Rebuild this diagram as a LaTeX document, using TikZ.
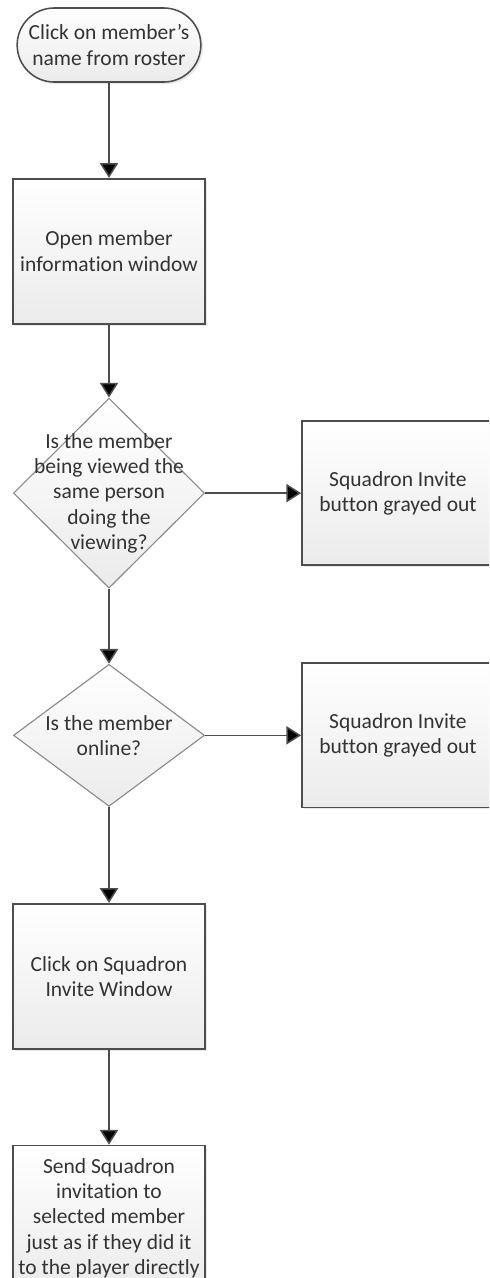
\documentclass[tikz,border=0pt]{standalone}
\usepackage{fontspec}
\setmainfont{Carlito}[Ligatures={TeX,NoCommon}]
\usetikzlibrary{positioning,shapes.geometric,shapes.misc,arrows.meta,shadows}
\definecolor{edgegray}{HTML}{4D4D4D}
\definecolor{diagray}{HTML}{8A8A8A}
\definecolor{fillgray}{HTML}{EBEBEB}
\tikzstyle{every node}=[font=\fontsize{15.3}{18}\selectfont,text=black!80,align=center]
\tikzstyle{boxshadow}=[drop shadow={shadow xshift=1.5pt,shadow yshift=-1.5pt,opacity=0.18}]
\tikzstyle{startstop}=[rounded rectangle,draw=edgegray,line width=1.1pt,top color=white,bottom color=fillgray,minimum width=4.825cm,minimum height=1.85cm,boxshadow]
\tikzstyle{process}=[rectangle,draw=edgegray,line width=1.2pt,top color=white,bottom color=fillgray,minimum width=4.8cm,minimum height=3.625cm,boxshadow]
\tikzstyle{decision}=[diamond,draw=diagray,line width=0.8pt,top color=white,bottom color=fillgray,minimum width=4.775cm,inner sep=0pt]
\tikzstyle{flowline}=[draw=edgegray,line width=1.1pt,-{Triangle[width=13pt,length=10.5pt]}]

\begin{document}
\begin{tikzpicture}[x=0.025cm,y=-0.025cm]
\path[use as bounding box,clip] (0,0) rectangle (489,1278);
\node[startstop] (click)                       at (109,45) {Click on member's\\name from roster};
\node[process]   (open)    [below=2.375cm of click]  {Open member\\information window};
\node[decision,minimum height=4.75cm,
      label={center:{Is the member\\being viewed the\\same person\\doing the\\viewing?}}]
                 (same)    [below=1.825cm of open]   {};
\node[process,minimum height=3.6cm] (grayed1) [right=2.4cm of same] {Squadron Invite\\button grayed out};
\node[decision,minimum height=3.55cm,
      label={center:{Is the member\\online?}}]
                 (online)  [below=1.875cm of same]   {};
\node[process,minimum height=3.6cm] (grayed2) [right=2.4cm of online] {Squadron Invite\\button grayed out};
\node[process]   (invite)  [below=2.4cm of online]   {Click on Squadron\\Invite Window};
\node[process]   (send)    [below=2.375cm of invite] {Send Squadron\\invitation to\\selected member\\just as if they did it\\to the player directly};
\path[flowline] (click)  edge (open)
                (open)   edge (same)
                (same)   edge (grayed1)
                         edge (online)
                (online) edge (grayed2)
                         edge (invite)
                (invite) edge (send);
\end{tikzpicture}
\end{document}
